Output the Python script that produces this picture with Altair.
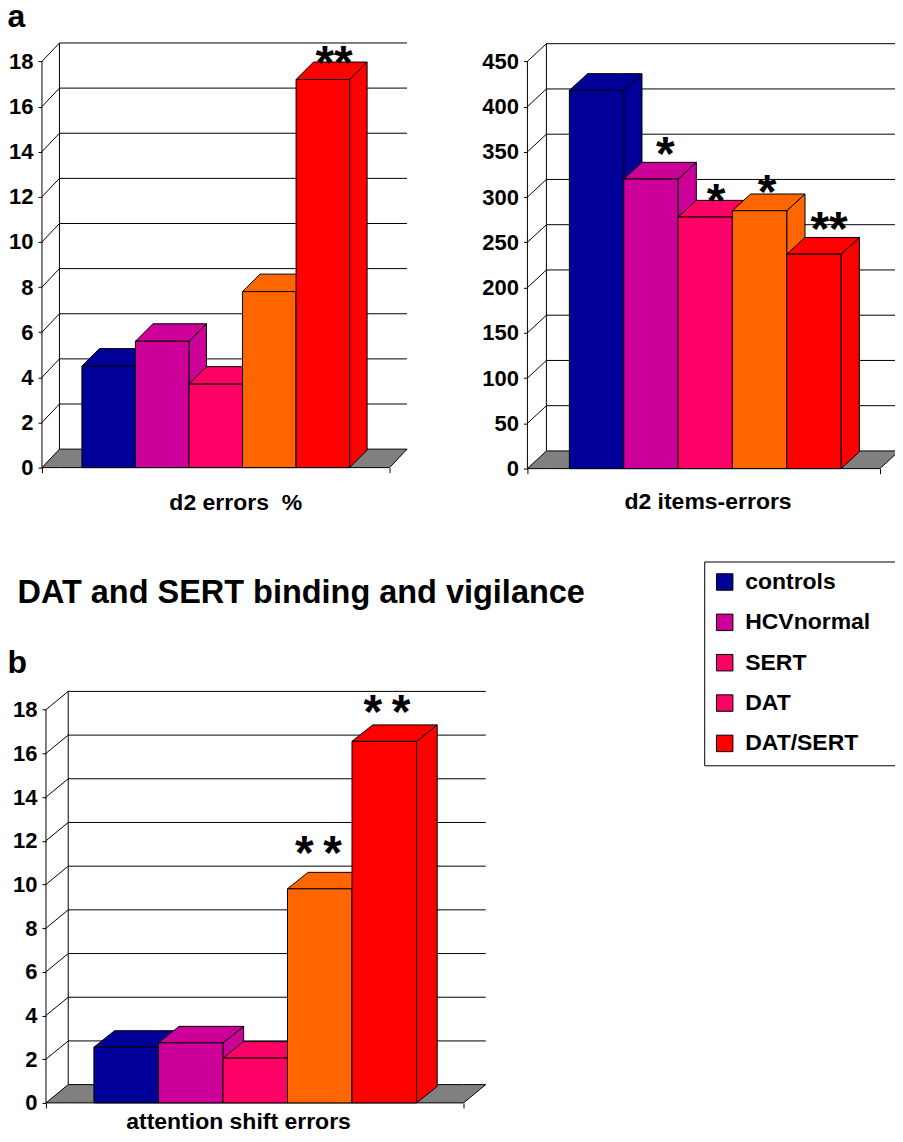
import altair as alt
import pandas as pd

# ---------------- data ----------------
groups = ["controls", "HCVnormal", "SERT", "DAT", "DAT/SERT"]
bar_colors = ["#000099", "#CC0099", "#FF0066", "#FF6600", "#FF0000"]
legend_colors = ["#000099", "#CC0099", "#FF0066", "#FF0066", "#FF0000"]

d2_errors = [4.5, 5.6, 3.7, 7.8, 17.2]
d2_items_errors = [418, 320, 278, 285, 237]
attention_shift_errors = [2.55, 2.75, 2.05, 9.8, 16.55]

stars_d2_errors = ["", "", "", "", "**"]
stars_d2_items = ["", "*", "*", "*", "**"]
stars_attention = ["", "", "", "*\u2009*", "*\u2009*"]

# star centres: position along the bar row (bar i spans i..i+1) and height in value units
star_pos_d2_errors = [None, None, None, None, 4.71]
star_val_d2_errors = [None, None, None, None, 18.37]
star_pos_d2_items = [None, 1.765, 2.70, 3.64, 4.78]
star_val_d2_items = [None, 358.2, 306.8, 316.8, 275.9]
star_pos_attention = [None, None, None, 3.48, 4.54]
star_val_attention = [None, None, None, 11.89, 18.34]

ticks_pct = list(range(0, 19, 2))
ticks_items = list(range(0, 451, 50))

FONT = "Liberation Sans"

# panel geometry (pixels in page space)
GEO_A = dict(left=42, axis=42, bars=82, bw=53.6, right=390, wall=(17.5, 18.5), bar=(17.5, 17.5),
             zero=466, top=40, ppu=22.59, W=366, H=426, title_x=235.5, title_y=508)
GEO_B = dict(left=528, axis=528, bars=570, bw=54.4, right=881, wall=(19, 17.7), bar=(18.3, 16.7),
             zero=467, top=40, ppu=0.906, W=372, H=427, title_x=708.3, title_y=506.7)
GEO_C = dict(left=42, axis=46, bars=94, bw=64.6, right=464, wall=(22.3, 18.3), bar=(20.7, 16.5),
             zero=1102, top=560, ppu=21.87, W=445, H=542, title_x=238.3, title_y=1128)


def panel(values, stars, star_pos, star_val, ticks, title, g, notes=(), legend=False):
    bw, ppu = g["bw"], g["ppu"]
    px2x = lambda px: (px - g["bars"]) / bw
    py2y = lambda py: (g["zero"] - py) / ppu
    xa = px2x(g["axis"])
    xr = px2x(g["right"])
    wdx, wdy = g["wall"][0] / bw, g["wall"][1] / ppu
    bdx, bdy = g["bar"][0] / bw, g["bar"][1] / ppu
    x0 = px2x(g["left"])
    xs = alt.Scale(domain=[x0, x0 + g["W"] / bw], nice=False, zero=False)
    ys = alt.Scale(domain=[0, g["H"] / ppu], nice=False, zero=False)
    top = ticks[-1]

    xaxis = alt.Axis(values=[xa, xr], labels=False, domain=False, grid=False, ticks=True,
                     tickSize=5, tickColor="black", tickWidth=1, title=title, titleFont=FONT,
                     titleFontSize=23, titleFontWeight="bold", titleColor="black",
                     titleX=g["title_x"] - g["left"], titleY=g["title_y"] - (g["top"] + g["H"]),
                     titleBaseline="alphabetic", titleAlign="center")
    yaxis = alt.Axis(values=ticks, domain=False, grid=False, ticks=True, tickSize=4,
                     tickColor="black", tickWidth=1, labelFont=FONT, labelFontSize=22,
                     labelFontWeight="bold", labelColor="black", labelPadding=5,
                     labelFlush=False, labelOverlap=False, title=None,
                     offset=-(g["axis"] - g["left"]))

    X = lambda f: alt.X(f, type="quantitative", scale=xs, axis=xaxis)
    Y = lambda f: alt.Y(f, type="quantitative", scale=ys, axis=yaxis, stack=None)

    # floor
    floor = pd.DataFrame({"x": [xa, xa + wdx, xr, xr + wdx],
                          "y": [0, wdy, wdy, wdy], "y2": [0, 0, 0, wdy]})
    floor_l = alt.Chart(floor).mark_area(fill="#808080", stroke="black", strokeWidth=1,
                                         interpolate="linear").encode(
        x=X("x"), y=Y("y"), y2="y2:Q")

    # back wall grid lines
    hgrid = pd.DataFrame({"x": [xa + wdx] * (len(ticks) - 1),
                          "x2": [xr + wdx] * (len(ticks) - 1),
                          "y": [t + wdy for t in ticks[1:]]})
    hgrid_l = alt.Chart(hgrid).mark_rule(color="black", strokeWidth=1).encode(
        x=X("x"), x2="x2:Q", y=Y("y"))
    # vertical edges (front axis, back wall left edge)
    vlines = pd.DataFrame({"x": [xa, xa + wdx], "y": [0, wdy], "y2": [top, top + wdy]})
    vlines_l = alt.Chart(vlines).mark_rule(color="black", strokeWidth=1).encode(
        x=X("x"), y=Y("y"), y2="y2:Q")
    # side wall diagonals
    diag = pd.DataFrame({"x": [xa] * (len(ticks) - 1), "x2": [xa + wdx] * (len(ticks) - 1),
                         "y": ticks[1:], "y2": [t + wdy for t in ticks[1:]]})
    diag_l = alt.Chart(diag).mark_rule(color="black", strokeWidth=1).encode(
        x=X("x"), x2="x2:Q", y=Y("y"), y2="y2:Q")

    # bars
    fronts = pd.DataFrame({"x": list(range(5)), "x2": [i + 1 for i in range(5)],
                           "y": [0] * 5, "y2": values, "fill": bar_colors, "group": groups})
    rows_side, rows_top = [], []
    for i, v in enumerate(values):
        xl, xrb = i, i + 1
        bid = "b%d" % i
        rows_side += [dict(id=bid, fill=bar_colors[i], x=xrb, y=v, y2=0),
                      dict(id=bid, fill=bar_colors[i], x=xrb + bdx, y=v + bdy, y2=bdy)]
        rows_top += [dict(id=bid, fill=bar_colors[i], x=xl, y=v, y2=v),
                     dict(id=bid, fill=bar_colors[i], x=xl + bdx, y=v + bdy, y2=v),
                     dict(id=bid, fill=bar_colors[i], x=xrb, y=v + bdy, y2=v),
                     dict(id=bid, fill=bar_colors[i], x=xrb + bdx, y=v + bdy, y2=v + bdy)]
    sides_l = alt.Chart(pd.DataFrame(rows_side)).mark_area(
        stroke="black", strokeWidth=1, interpolate="linear").encode(
        x=X("x"), y=Y("y"), y2="y2:Q", detail="id:N", fill=alt.Fill("fill:N", scale=None))
    tops_l = alt.Chart(pd.DataFrame(rows_top)).mark_area(
        stroke="black", strokeWidth=1, interpolate="linear").encode(
        x=X("x"), y=Y("y"), y2="y2:Q", detail="id:N", fill=alt.Fill("fill:N", scale=None))
    fronts_l = alt.Chart(fronts).mark_rect(stroke="black", strokeWidth=1).encode(
        x=X("x"), x2="x2:Q", y=Y("y"), y2="y2:Q", fill=alt.Fill("fill:N", scale=None))

    # significance stars
    st = pd.DataFrame({"x": star_pos, "y": star_val, "t": stars}).dropna()
    stars_l = alt.Chart(st).mark_text(font=FONT, fontSize=48, fontWeight="bold", color="black",
                                      align="center", baseline="alphabetic", dy=26).encode(
        x=X("x"), y=Y("y"), text="t:N")

    layers = [floor_l, hgrid_l, vlines_l, diag_l, sides_l, tops_l, fronts_l, stars_l]

    for txt, px, py, fs in notes:
        nd = pd.DataFrame({"x": [px2x(px)], "y": [py2y(py)], "t": [txt]})
        layers.append(alt.Chart(nd).mark_text(font=FONT, fontSize=fs, fontWeight="bold",
                                              color="black", align="left",
                                              baseline="alphabetic").encode(
            x=X("x"), y=Y("y"), text="t:N"))

    if legend:
        ld = pd.DataFrame({"group": groups, "x": [xa] * 5, "y": [0] * 5})
        pad = "\u00a0" * 3 + "\u200b"
        layers.append(alt.Chart(ld).mark_point(shape="square", filled=True, opacity=0).encode(
            x=X("x"), y=Y("y"),
            color=alt.Color("group:N", scale=alt.Scale(domain=groups, range=legend_colors),
                            legend=alt.Legend(orient="none", legendX=705 - g["left"],
                                              legendY=560 - g["top"], title=None,
                                              direction="vertical",
                                              symbolType="square", symbolSize=272,
                                              symbolStrokeColor="black", symbolStrokeWidth=1,
                                              symbolOpacity=1, labelFont=FONT,
                                              labelFontSize=23, labelFontWeight="bold",
                                              labelColor="black", rowPadding=16.4,
                                              labelOffset=9, padding=9, labelLimit=0,
                                              strokeColor="black", fillColor="white",
                                              labelExpr="datum.label + '" + pad + "'"))))

    return alt.layer(*layers).properties(width=g["W"], height=g["H"])


pA = panel(d2_errors, stars_d2_errors, star_pos_d2_errors, star_val_d2_errors, ticks_pct,
           "d2 errors\u00a0 %", GEO_A, notes=[("a", 7.5, 25, 32)])
pB = panel(d2_items_errors, stars_d2_items, star_pos_d2_items, star_val_d2_items, ticks_items,
           "d2 items-errors", GEO_B)
pC = panel(attention_shift_errors, stars_attention, star_pos_attention, star_val_attention,
           ticks_pct, "attention shift errors", GEO_C,
           notes=[("DAT and SERT binding and vigilance", 17.5, 602, 32.5), ("b", 7.5, 671.7, 32)],
           legend=True)

chart = alt.concat(pA, pB, pC, columns=2, bounds="flush",
                   spacing={"row": 93, "column": 41}).resolve_scale(
    color="independent").resolve_legend(color="independent").configure_view(
    stroke=None).properties(padding={"top": -7.5, "left": -1, "right": -6, "bottom": 0},
                            background="white")

chart.save("out.html", embed_options={"renderer": "svg", "actions": False})
